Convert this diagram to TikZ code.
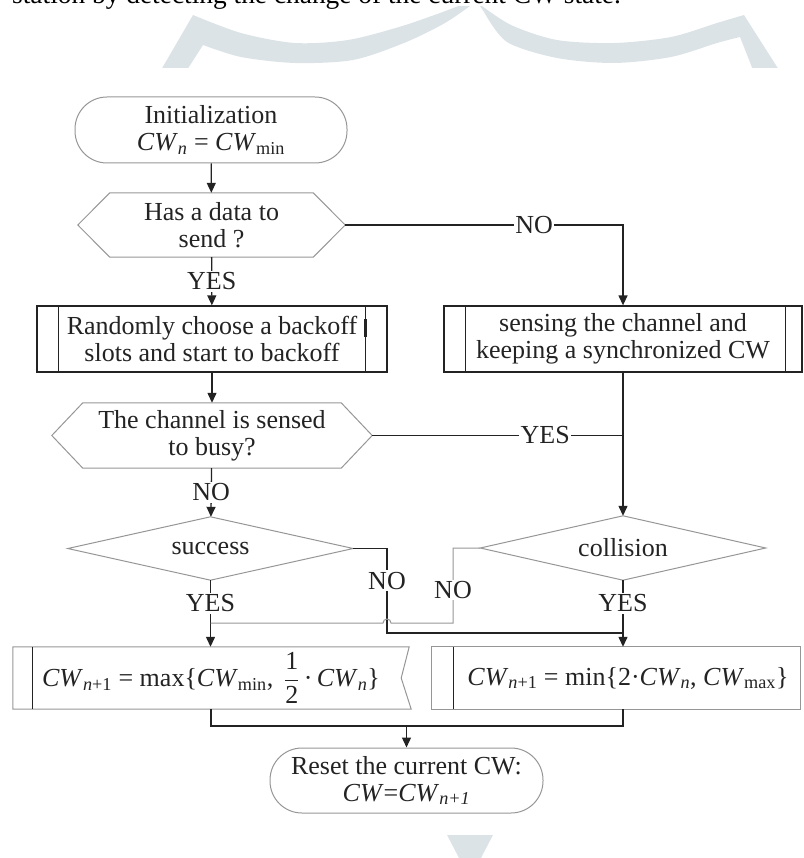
\documentclass[tikz,border=0pt]{standalone}
\usepackage{fontspec}
\setmainfont{Liberation Serif}
\usetikzlibrary{arrows.meta,calc}
\definecolor{wm}{RGB}{220,227,231}
\definecolor{shp}{RGB}{150,150,150}
\definecolor{ink}{RGB}{35,35,35}
\newcommand\cwi{\textit{CW}}
\begin{document}
\begin{tikzpicture}[x=1pt,y=-1pt,
  txt/.style={font=\fontsize{26}{27}\selectfont, align=center, inner sep=0pt, text=ink},
  lbl/.style={font=\fontsize{26}{27}\selectfont, fill=white, inner sep=1.5pt, text=ink},
  conn/.style={draw=ink, line width=1.3pt},
  arr/.style={conn, -{Triangle[length=10pt,width=9pt]}},
  gline/.style={draw=shp, line width=1pt},
  term/.style={txt, draw=shp, line width=1pt, rounded corners=32pt},
  pbox/.style={txt, draw=ink, line width=1.3pt}
]
\useasboundingbox (0,0) rectangle (803,858);

% watermark
\begin{scope}
\clip (0,7) rectangle (803,68);
\fill[wm] (161,70) -- (193,15) -- plot[smooth] coordinates {(193,15) (241,33) (295,43) (348,40) (399,27) (440,13) (466,3)} -- (474,3) -- plot[smooth] coordinates {(474,3) (445,23) (404,43) (353,60) (295,63) (241,57) (203,45)} -- (187,70) -- cycle;
\fill[wm] (478,3) -- plot[smooth] coordinates {(478,3) (511,25) (557,40) (614,43) (671,37) (717,23) (744,15)} -- (779,70) -- (753,70) -- (740,37) -- plot[smooth] coordinates {(740,37) (717,43) (671,57) (614,63) (557,58) (507,42) (484,12)} -- cycle;
\end{scope}
\fill[wm] (447,835) -- (493,835) -- (470,879) -- cycle;

% cropped caption line at the top
\node[anchor=base west, inner sep=0pt, font=\fontsize{27.4}{30}\selectfont, text=black] (cap) at (12,4) {station by detecting the change of the current CW state.};

% nodes
\node[term, minimum width=272pt, minimum height=66pt] (init) at (211,130) {Initialization\\\cwi\textsubscript{\textit{n}} = \cwi\textsubscript{min}};

\node[txt, minimum width=267pt, minimum height=64pt] (h1) at (211.5,225) {Has a data to\\send ?};
\draw[gline] (h1.west) -- ([xshift=32pt]h1.north west) -- ([xshift=-32pt]h1.north east) -- (h1.east) -- ([xshift=-32pt]h1.south east) -- ([xshift=32pt]h1.south west) -- cycle;

\node[pbox, minimum width=350pt, minimum height=66pt] (b1) at (212,339) {Randomly choose a backoff\\slots and start to backoff};
\draw[conn] ([xshift=22pt]b1.north west) -- ([xshift=22pt]b1.south west)
            ([xshift=-22pt]b1.north east) -- ([xshift=-22pt]b1.south east);
\draw[ink, line width=3pt] ([xshift=-22pt,yshift=-14pt]b1.north east) -- ([xshift=-22pt,yshift=-32pt]b1.north east);

\node[pbox, minimum width=358pt, minimum height=66pt] (b2) at (623,339) {sensing the channel and\\keeping a synchronized CW};
\draw[conn] ([xshift=22pt]b2.north west) -- ([xshift=22pt]b2.south west)
            ([xshift=-17pt]b2.north east) -- ([xshift=-17pt]b2.south east);

\node[txt, minimum width=320pt, minimum height=65pt] (h2) at (212,435.5) {The channel is sensed\\to busy?};
\draw[gline] (h2.west) -- ([xshift=31pt]h2.north west) -- ([xshift=-31pt]h2.north east) -- (h2.east) -- ([xshift=-31pt]h2.south east) -- ([xshift=31pt]h2.south west) -- cycle;

\node[txt, minimum width=285pt, minimum height=63pt] (succ) at (210.5,548.5) {success};
\draw[gline] (succ.west) -- (succ.north) -- (succ.east) -- (succ.south) -- cycle;

\node[txt, minimum width=285pt, minimum height=64pt] (coll) at (623,548) {collision};
\draw[gline] (coll.west) -- (coll.north) -- (coll.east) -- (coll.south) -- cycle;

\node[txt, minimum width=396pt, minimum height=62pt] (b3) at (211,678) {\cwi\textsubscript{\textit{n}+1} = max\{\cwi\textsubscript{min}, \,$\displaystyle\frac{\mbox{1}}{\mbox{2}}$\,·\,\cwi\textsubscript{\textit{n}}\}};
\draw[gline] (b3.north west) -- (b3.north east) -- ([xshift=-8pt]b3.east) -- ([xshift=2pt]b3.south east) -- (b3.south west) -- cycle;
\draw[conn] ([xshift=20pt]b3.north west) -- ([xshift=20pt]b3.south west);

\node[txt, minimum width=368pt, minimum height=62pt] (b4) at (616,678) {\hspace*{24pt}\cwi\textsubscript{\textit{n}+1} = min\{2·\cwi\textsubscript{\textit{n}}, \cwi\textsubscript{max}\}};
\draw[gline] (b4.north west) rectangle (b4.south east);
\draw[conn] ([xshift=22pt]b4.north west) -- ([xshift=22pt]b4.south west);

\node[term, minimum width=273pt, minimum height=65pt] (t2) at (406.5,780.5) {Reset the current CW:\\\cwi=\cwi\textsubscript{\textit{n+1}}};

% helper coordinates
\coordinate (sx) at (387,633);
\coordinate (jn) at (623,633);
\coordinate (cx) at (453,623);
\coordinate (mg) at (406.5,726);

% connectors
\draw[arr] (init) -- (h1);
\draw[arr] (h1) -- node[lbl]{YES} (b1);
\draw[arr] (h1.east) -| node[lbl,pos=0.34]{NO} (b2.north);
\draw[arr] (b1) -- (h2);
\draw[arr] (h2) -- node[lbl]{NO} (succ);
\draw[conn] (h2.east) -- node[lbl,pos=0.69]{YES} (h2.east -| b2.south);
\draw[arr] (b2.south) -- (coll.north);
\draw[arr] (succ) -- node[lbl,pos=0.35]{YES} (b3.north -| succ.south);
\draw[arr] (coll) -- node[lbl,pos=0.35]{YES} (coll.south |- b4.north);
\draw[conn] (succ.east) -| node[lbl,pos=0.69]{NO} (sx) -- (jn);
\draw[gline] (coll.west) -| node[lbl,pos=0.78]{NO} (cx) -- (391,623) arc[start angle=0,end angle=180,radius=4pt] -- (succ.south |- cx);
\draw[conn] (b3.south) |- (coll.south |- mg) -- (coll.south |- b4.south);
\draw[arr] (mg) -- (t2);
\end{tikzpicture}
\end{document}
